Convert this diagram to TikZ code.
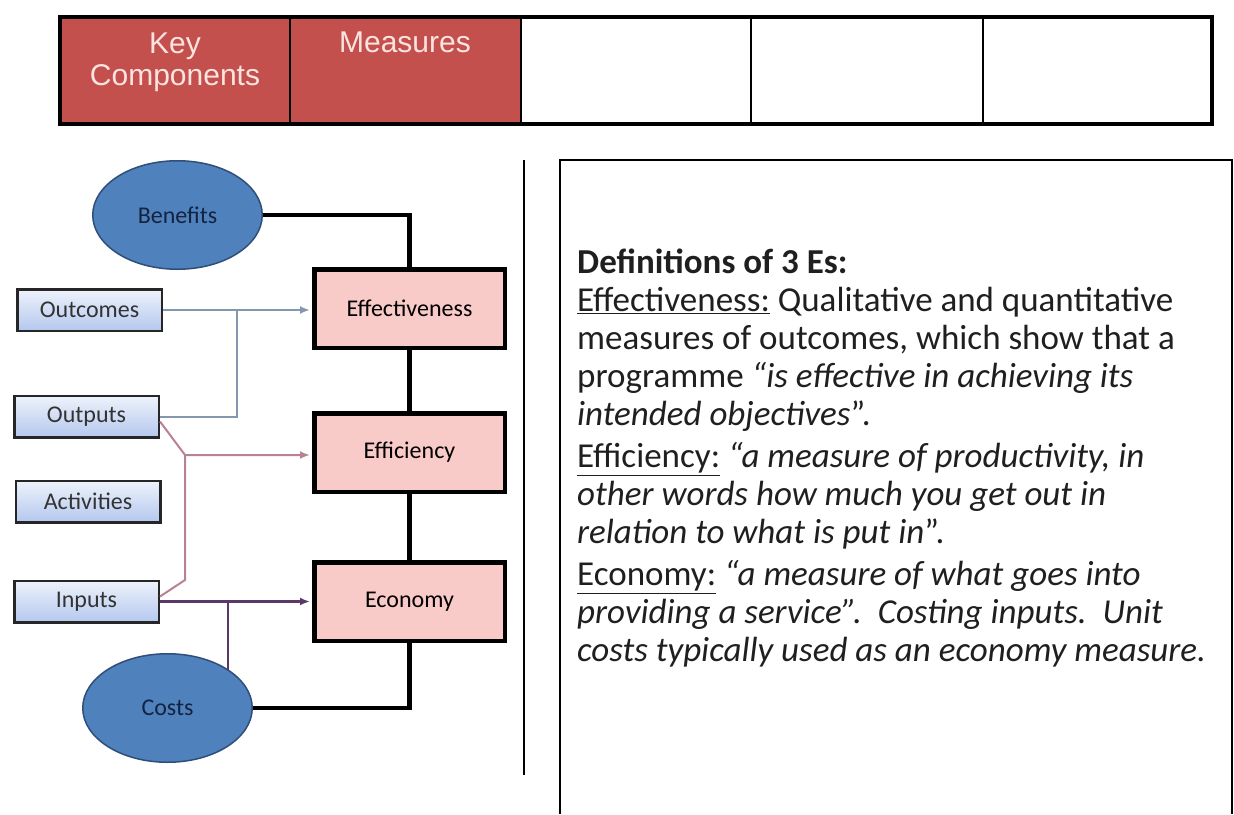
\documentclass[tikz,border=0pt]{standalone}
\usepackage{fontspec}
\setmainfont{Carlito}
\newfontfamily\headfont{Liberation Sans}
\usetikzlibrary{shapes.geometric,arrows.meta,positioning}
\definecolor{headred}{HTML}{C4504D}
\definecolor{headtext}{HTML}{FBE3E0}
\definecolor{boxpink}{HTML}{F9CBC8}
\definecolor{ovalblue}{HTML}{4F81BD}
\definecolor{ovalline}{HTML}{2F4F7A}
\definecolor{ovaltext}{HTML}{14233F}
\definecolor{lineblue}{HTML}{8397AE}
\definecolor{linerose}{HTML}{B98290}
\definecolor{lineplum}{HTML}{5C3868}
\definecolor{tabtop}{HTML}{EEF2FB}
\definecolor{tabbot}{HTML}{B4C8EE}
\tikzset{
  measurebox/.style={draw=black, line width=4.5pt, fill=boxpink, minimum width=190.5pt, minimum height=78.5pt, inner sep=0pt, font=\fontsize{24}{28}\selectfont},
  levelbox/.style={draw=black!85, line width=2.5pt, top color=tabtop, bottom color=tabbot, minimum width=144.5pt, minimum height=41.5pt, inner sep=0pt, text=black!80, font=\fontsize{24}{28}\selectfont},
  valueoval/.style={ellipse, draw=ovalline, line width=1.5pt, fill=ovalblue, minimum width=169.5pt, minimum height=108.5pt, inner sep=0pt, text=ovaltext, font=\fontsize{24}{28}\selectfont},
  headlabel/.style={text=headtext, inner sep=0pt, align=center, font=\headfont\fontsize{30}{32}\selectfont},
  chainline/.style={line width=4.5pt},
  feed/.style={line width=2pt, shorten >=2pt, -{Latex[length=10pt,width=8pt]}},
}
\begin{document}
\begin{tikzpicture}[x=1pt,y=-1pt]
        \useasboundingbox (0,0) rectangle (1234,814);

        % Header row
        \fill[headred] (60,17) rectangle (521,124);
        \foreach \x in {290,521,751,983}
            \draw[line width=2pt] (\x,17) -- (\x,124);
        \draw[line width=4.5pt] (60,17) rectangle (1212,124);
        \node[headlabel, anchor=north] (keycomp) at (175,33) {Key\\Components};
        \node[headlabel, anchor=north] (measures) at (405,32) {Measures};

        % 3 Es
        \node[measurebox] (effect) at (409.5,308.5) {Effectiveness};
        \node[measurebox] (effic) at (409.5,452.5) {Efficiency};
        \node[measurebox] (econ) at (409.5,601.5) {Economy};

        % Benefits and costs
        \node[valueoval] (benefits) at (177.5,215) {Benefits};
        \node[valueoval] (costs) at (167.5,708) {Costs};

        % Logic model levels
        \node[levelbox] (outcomes) at (89.5,310) {Outcomes};
        \node[levelbox] (outputs) at (86.5,416.5) {Outputs};
        \node[levelbox] (activities) at (88,501.5) {Activities};
        \node[levelbox] (inputs) at (86.5,601.5) {Inputs};

        % Chain from benefits to costs
        \draw[chainline] (benefits.east) -| (effect.north);
        \draw[chainline] (effect.south) -- (effic.north);
        \draw[chainline] (effic.south) -- (econ.north);
        \draw[chainline] (econ.south) |- (costs.east);

        % Into effectiveness
        \coordinate (outjoin) at (237,310);
        \draw[feed, lineblue] (outcomes.east) -- (outcomes.east -| effect.west);
        \draw[line width=2pt, lineblue] (outputs.east) -| (outjoin);

        % Into efficiency
        \coordinate (rosetop) at (185,455);
        \coordinate (rosebot) at (185,580);
        \draw[feed, linerose] ([yshift=-5pt]outputs.east) -- (rosetop) -- (rosetop -| effic.west);
        \draw[line width=2pt, linerose] ([yshift=5pt]inputs.east) -- (rosebot) -- (rosetop);

        % Into economy
        \path (inputs.east) -- ++(68,0) coordinate (costjoin);
        \draw[feed, lineplum, line width=2.5pt] (inputs.east) -- (inputs.east -| econ.west);
        \draw[lineplum, line width=2.5pt] (costjoin) -- (costjoin |- costs.32);

        % Divider and text panel
        \draw[line width=2.5pt] (524,160) -- (524,775);
        \draw[line width=2.5pt] (560,814) -- (560,160) -- (1232,160) -- (1232,814);
        \node[anchor=north west, inner sep=0pt, align=left, text=black!88,
              font=\fontsize{35}{38}\selectfont] (defs) at (577,249)
            {\textbf{Definitions of 3 Es:}\\
             \underline{Effectiveness:} Qualitative and quantitative\\
             measures of outcomes, which show that a\\
             programme \textit{``is effective in achieving its}\\
             \textit{intended objectives}''.\\[4pt]
             \underline{Efficiency:} \textit{``a measure of productivity, in}\\
             \textit{other words how much you get out in}\\
             \textit{relation to what is put in}''.\\[4pt]
             \underline{Economy:} \textit{``a measure of what goes into}\\
             \textit{providing a service''.\ \ Costing inputs.\ \ Unit}\\
             \textit{costs typically used as an economy measure.}};
     \end{tikzpicture}
\end{document}
